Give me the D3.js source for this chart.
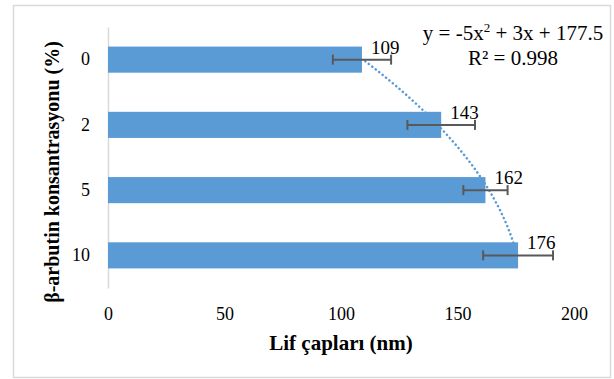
<!DOCTYPE html>
<html>
<head>
<meta charset="utf-8">
<script src="https://cdn.jsdelivr.net/npm/d3@7"></script>
<style>
    body { margin: 0; background: #fff; }
    text { font-family: "Liberation Serif", "Times New Roman", serif; fill: #000; }
</style>
</head>
<body>
<div id="chart"></div>
<script>
// β-arbutin concentration (%) categories, top to bottom
const categories = ["0", "2", "5", "10"];
const fiberDiameters = [109, 143, 162, 176];
const errorValues = [12.5, 14.5, 9.5, 15];
const xTicks = [0, 50, 100, 150, 200];
// polynomial trendline y = a x^2 + b x + c, x = 1 for the bottom category
const trendCoefs = [-5, 3, 177.5];
const trendLabels = ["R² = 0.998"];

const width = 614, height = 379;
const margin = { top: 27, right: 40, bottom: 91, left: 108 };

const svg = d3.select("#chart")
    .append("svg")
    .attr("width", width)
    .attr("height", height);

// chart border
svg.append("rect")
    .attr("x", 13.5).attr("y", 5.5)
    .attr("width", 597).attr("height", 372)
    .attr("fill", "none")
    .attr("stroke", "#d9d9d9")
    .attr("stroke-width", 1.5);

const g = svg.append("g")
    .attr("transform", `translate(${margin.left},${margin.top})`);

const innerW = 574 - margin.left;
const innerH = 288 - margin.top;

const xScale = d3.scaleLinear().domain([0, 200]).range([0, innerW]);
const yScale = d3.scaleBand().domain(categories).range([0, innerH]).paddingInner(0.6).paddingOuter(0.3);

// x axis tick labels (no line)
const xAxis = g.append("g")
    .attr("transform", `translate(0, ${innerH})`)
    .call(d3.axisBottom(xScale).tickValues(xTicks).tickSize(0).tickPadding(19));
xAxis.select(".domain").remove();
xAxis.selectAll("text").style("font-size", "18px").style("font-family", "Liberation Serif");

// y axis
const yAxis = g.append("g")
    .call(d3.axisLeft(yScale).tickSize(0).tickPadding(18));
yAxis.select(".domain").attr("stroke", "#d9d9d9").attr("stroke-width", 1.5);
yAxis.selectAll("text").style("font-size", "18px").style("font-family", "Liberation Serif");

// trendline (drawn under bars)
const poly = (x) => trendCoefs[0] * x * x + trendCoefs[1] * x + trendCoefs[2];
const yByIndex = d3.scaleLinear()
    .domain([1, categories.length])
    .range([yScale(categories[categories.length - 1]) + yScale.bandwidth() / 2,
            yScale(categories[0]) + yScale.bandwidth() / 2]);
const trendPts = d3.range(1, categories.length + 0.001, 0.05);
g.append("path")
    .datum(trendPts)
    .attr("fill", "none")
    .attr("stroke", "#5b9bd5")
    .attr("stroke-width", 2.5)
    .attr("stroke-dasharray", "0.1,4.3")
    .attr("stroke-linecap", "round")
    .attr("d", d3.line().x(d => xScale(poly(d))).y(d => yByIndex(d)));

// bars
g.selectAll(".bar")
    .data(categories)
    .enter()
    .append("rect")
    .attr("class", "bar")
    .attr("x", 0)
    .attr("y", d => yScale(d))
    .attr("width", (d, i) => xScale(fiberDiameters[i]))
    .attr("height", yScale.bandwidth())
    .attr("fill", "#5b9bd5");

// error bars
const err = g.selectAll(".err")
    .data(categories)
    .enter()
    .append("g")
    .attr("class", "err")
    .attr("stroke", "#595959")
    .attr("stroke-width", 2);
err.append("line")
    .attr("x1", (d, i) => xScale(fiberDiameters[i] - errorValues[i]))
    .attr("x2", (d, i) => xScale(fiberDiameters[i] + errorValues[i]))
    .attr("y1", d => yScale(d) + yScale.bandwidth() / 2)
    .attr("y2", d => yScale(d) + yScale.bandwidth() / 2);
[-1, 1].forEach(s => {
    err.append("line")
        .attr("x1", (d, i) => xScale(fiberDiameters[i] + s * errorValues[i]))
        .attr("x2", (d, i) => xScale(fiberDiameters[i] + s * errorValues[i]))
        .attr("y1", d => yScale(d) + yScale.bandwidth() / 2 - 5)
        .attr("y2", d => yScale(d) + yScale.bandwidth() / 2 + 5);
});

// value labels
g.selectAll(".lbl")
    .data(categories)
    .enter()
    .append("text")
    .attr("class", "lbl")
    .attr("x", (d, i) => xScale(fiberDiameters[i]) + 9)
    .attr("y", d => yScale(d) + yScale.bandwidth() / 2 - 6)
    .style("font-size", "19px")
    .text((d, i) => fiberDiameters[i]);

// trendline equation
const eq = svg.append("text")
    .attr("x", 513).attr("y", 40)
    .attr("text-anchor", "middle")
    .style("font-size", "21px");
eq.append("tspan").text(`y = ${trendCoefs[0]}x`);
eq.append("tspan").attr("dy", -8).style("font-size", "13px").text("2");
eq.append("tspan").attr("dy", 8).text(` + ${trendCoefs[1]}x + ${trendCoefs[2]}`);
svg.append("text")
    .attr("x", 513).attr("y", 65)
    .attr("text-anchor", "middle")
    .style("font-size", "21px")
    .text(trendLabels[0]);

// axis titles
svg.append("text")
    .attr("x", 341).attr("y", 350)
    .attr("text-anchor", "middle")
    .style("font-size", "21px")
    .style("font-weight", "bold")
    .text("Lif çapları (nm)");
svg.append("text")
    .attr("transform", "translate(59, 172) rotate(-90)")
    .attr("text-anchor", "middle")
    .style("font-size", "20px")
    .style("font-weight", "bold")
    .text("β-arbutin konsantrasyonu (%)");
</script>
</body>
</html>
